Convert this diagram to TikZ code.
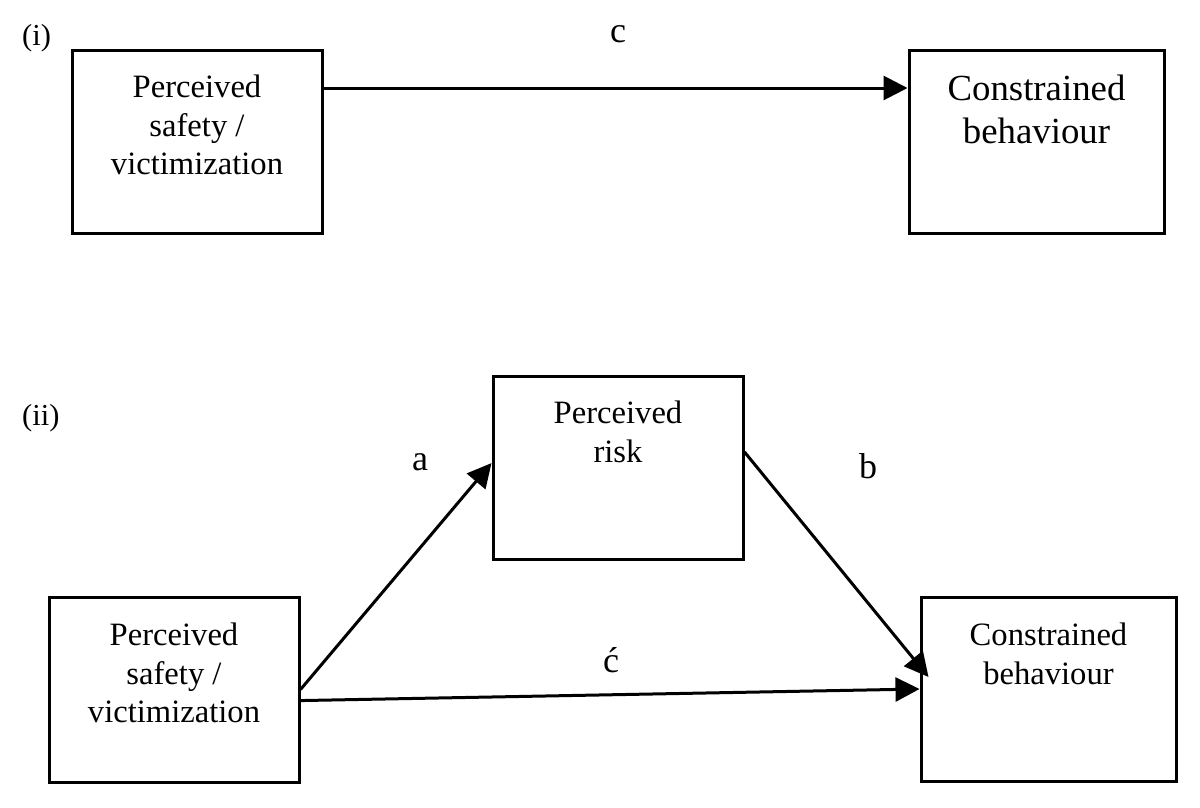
\documentclass[tikz,border=0pt]{standalone}
\usepackage{fontspec}
\setmainfont{Liberation Serif}
\usetikzlibrary{arrows.meta,calc}
\tikzset{
  box/.style={draw, line width=3pt, minimum width=250pt, minimum height=184pt, inner sep=0pt},
  boxtext/.style={anchor=north, align=center, inner sep=0pt, font=\fontsize{32.6}{38.5}\selectfont},
  bigtext/.style={anchor=north, align=center, inner sep=0pt, font=\fontsize{36.8}{43}\selectfont},
  lbl/.style={anchor=base, inner sep=0pt, font=\fontsize{36}{40}\selectfont},
  panel/.style={anchor=base west, inner sep=0pt, font=\fontsize{30.5}{33}\selectfont},
  conn/.style={line width=3pt, -{Triangle[length=24pt,width=24pt]}}
}
\begin{document}
\begin{tikzpicture}[x=1pt,y=-1pt]
\useasboundingbox (0,0) rectangle (1200,807);
% panel (i)
\node[panel] (pi) at (22,45) {(i)};
\node[box, minimum height=183pt] (b1) at (197,141.5) {};
\node[box, minimum width=255pt, minimum height=183pt] (b2) at (1036.5,141.5) {};
\node[boxtext] (t1) at (197,74.7) {Perceived\\safety /\\victimization};
\node[bigtext] (t2) at (1036.5,75) {Constrained\\behaviour};
\draw[conn] ([yshift=53.5pt]b1.east) -- ([yshift=53.5pt]b2.west);
\node[lbl] (lc) at (618,42) {c};
% panel (ii)
\node[panel] (pii) at (22,425) {(ii)};
\node[box, minimum height=183pt] (b3) at (618,467.5) {};
\node[box, minimum height=185pt] (b4) at (174,689.5) {};
\node[box, minimum width=255pt] (b5) at (1048.5,689) {};
\node[boxtext] (t3) at (618,400.7) {Perceived\\risk};
\node[boxtext] (t4) at (174,622.7) {Perceived\\safety /\\victimization};
\node[boxtext] (t5) at (1048.5,622.7) {Constrained\\behaviour};
\coordinate (btip) at ($(b5.west)+(9,-12)$);
\draw[conn] (b4.east) -- (b3.178);
\draw[conn] (b3.7) -- (btip);
\draw[conn] (b4.-5) -- (b5.west);
\node[lbl] (la) at (420,470) {a};
\node[lbl] (lb) at (868,478) {b};
\node[lbl] (lcp) at (611,672) {ć};
\end{tikzpicture}
\end{document}
